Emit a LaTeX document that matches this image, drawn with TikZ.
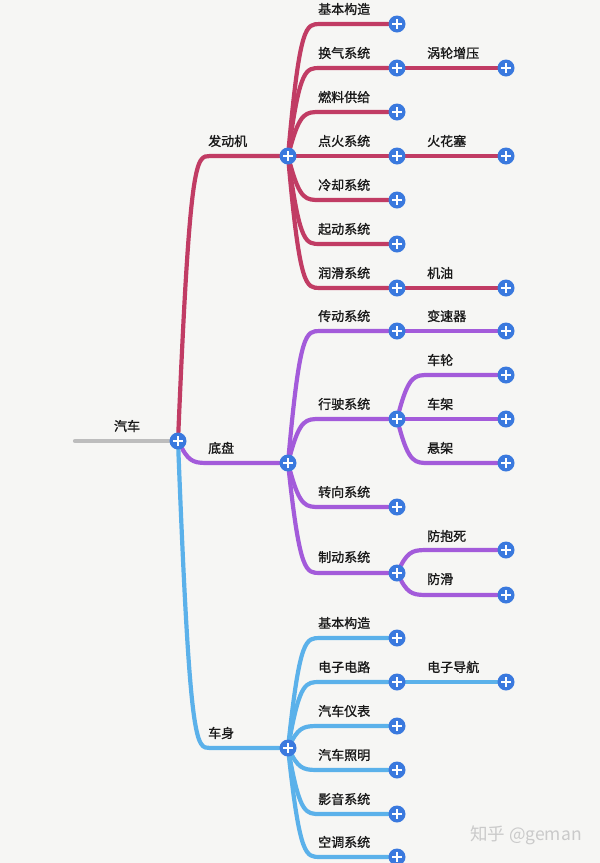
\documentclass[tikz,border=0pt]{standalone}
\usepackage{fontspec}
\newfontfamily\cjk{Noto Sans CJK SC}[FakeBold=1.2]
\newfontfamily\cjkwm{Noto Sans CJK SC}
\usetikzlibrary{calc,backgrounds}
\pgfdeclarelayer{bottom}
\pgfsetlayers{bottom,background,main}
\definecolor{bgc}{HTML}{F6F6F4}
\definecolor{engc}{HTML}{C13C64}
\definecolor{chac}{HTML}{A35BDA}
\definecolor{bodc}{HTML}{5BB1EA}
\definecolor{plusc}{HTML}{3A79DE}
\definecolor{rootc}{HTML}{BDBDBD}
\definecolor{wmc}{HTML}{CACACA}
\tikzset{
  plusnode/.style={circle,fill=plusc,minimum size=17pt,inner sep=0pt,
    path picture={\draw[white,line width=2.3pt]
      ($(path picture bounding box.center)+(-4.6pt,0pt)$) -- ($(path picture bounding box.center)+(4.6pt,0pt)$)
      ($(path picture bounding box.center)+(0pt,-4.6pt)$) -- ($(path picture bounding box.center)+(0pt,4.6pt)$);}},
  lbl/.style={anchor=west,inner sep=0pt,font=\cjk\fontsize{13}{15}\selectfont,text=black!90},
  conn/.style={line width=4.2pt,line cap=round,line join=round},
}
% curved connector from parent #1 to child #2
\newcommand\brconn[3]{%
  \draw[conn,#3] let \p1=(#1), \p2=(#2) in
    (#1) .. controls (\x1+12pt,\y2) and (\x1+18pt,\y2) .. (\x1+32pt,\y2) -- (#2);}
\begin{document}
\begin{tikzpicture}[x=1pt,y=-1pt]
\begin{pgfonlayer}{bottom}
\fill[bgc] (0,0) rectangle (600,863);
\end{pgfonlayer}
\useasboundingbox (0,0) rectangle (600,863);

% ---------- plus nodes ----------
\coordinate (rs) at (75,441);
\node[plusnode] (R) at (178,441) {};
\node[plusnode] (E) at (288,156) {};
\node[plusnode] (C) at (288,463) {};
\node[plusnode] (B) at (288,748) {};
% engine
\node[plusnode] (e1) at (397,24) {};
\node[plusnode] (e2) at (397,68) {};
\node[plusnode] (e3) at (397,112) {};
\node[plusnode] (e4) at (397,156) {};
\node[plusnode] (e5) at (397,200) {};
\node[plusnode] (e6) at (397,244) {};
\node[plusnode] (e7) at (397,288) {};
\node[plusnode] (e2a) at (506,68) {};
\node[plusnode] (e4a) at (506,156) {};
\node[plusnode] (e7a) at (506,288) {};
% chassis
\node[plusnode] (c1) at (397,331) {};
\node[plusnode] (c2) at (397,419) {};
\node[plusnode] (c3) at (397,507) {};
\node[plusnode] (c4) at (397,573) {};
\node[plusnode] (c1a) at (506,331) {};
\node[plusnode] (c2a) at (506,375) {};
\node[plusnode] (c2b) at (506,419) {};
\node[plusnode] (c2c) at (506,463) {};
\node[plusnode] (c4a) at (506,550) {};
\node[plusnode] (c4b) at (506,595) {};
% body
\node[plusnode] (b1) at (397,638) {};
\node[plusnode] (b2) at (397,682) {};
\node[plusnode] (b3) at (397,726) {};
\node[plusnode] (b4) at (397,770) {};
\node[plusnode] (b5) at (397,814) {};
\node[plusnode] (b6) at (397,857) {};
\node[plusnode] (b2a) at (506,682) {};

% ---------- connectors ----------
\begin{scope}[on background layer]
\draw[conn,rootc] (rs) -- (R);
\brconn{R}{E}{engc}
\brconn{R}{C}{chac}
\brconn{R}{B}{bodc}
\foreach \kk in {e1,e2,e3,e5,e6,e7} {\brconn{E}{\kk}{engc}}
\draw[conn,engc] (E) -- (e4);
\draw[conn,engc] (e2) -- (e2a);
\draw[conn,engc] (e4) -- (e4a);
\draw[conn,engc] (e7) -- (e7a);
\foreach \kk in {c1,c2,c3,c4} {\brconn{C}{\kk}{chac}}
\draw[conn,chac] (c1) -- (c1a);
\brconn{c2}{c2a}{chac}
\draw[conn,chac] (c2) -- (c2b);
\brconn{c2}{c2c}{chac}
\brconn{c4}{c4a}{chac}
\brconn{c4}{c4b}{chac}
\foreach \kk in {b1,b2,b3,b4,b5,b6} {\brconn{B}{\kk}{bodc}}
\draw[conn,bodc] (b2) -- (b2a);
\end{scope}

% ---------- labels ----------
\node[lbl,anchor=center] (lR) at (127,426) {汽车};
\node[lbl] (lE) at (208,141) {发动机};
\node[lbl] (lC) at (208,448) {底盘};
\node[lbl] (lB) at (208,733) {车身};
\node[lbl] (le1) at (318,9) {基本构造};
\node[lbl] (le2) at (318,53) {换气系统};
\node[lbl] (le3) at (318,97) {燃料供给};
\node[lbl] (le4) at (318,141) {点火系统};
\node[lbl] (le5) at (318,185) {冷却系统};
\node[lbl] (le6) at (318,229) {起动系统};
\node[lbl] (le7) at (318,273) {润滑系统};
\node[lbl] (le2a) at (427,53) {涡轮增压};
\node[lbl] (le4a) at (427,141) {火花塞};
\node[lbl] (le7a) at (427,273) {机油};
\node[lbl] (lc1) at (318,316) {传动系统};
\node[lbl] (lc2) at (318,404) {行驶系统};
\node[lbl] (lc3) at (318,492) {转向系统};
\node[lbl] (lc4) at (318,557) {制动系统};
\node[lbl] (lc1a) at (427,316) {变速器};
\node[lbl] (lc2a) at (427,360) {车轮};
\node[lbl] (lc2b) at (427,404) {车架};
\node[lbl] (lc2c) at (427,448) {悬架};
\node[lbl] (lc4a) at (427,536) {防抱死};
\node[lbl] (lc4b) at (427,579) {防滑};
\node[lbl] (lb1) at (318,623) {基本构造};
\node[lbl] (lb2) at (318,667) {电子电路};
\node[lbl] (lb3) at (318,711) {汽车仪表};
\node[lbl] (lb4) at (318,755) {汽车照明};
\node[lbl] (lb5) at (318,799) {影音系统};
\node[lbl] (lb6) at (318,842) {空调系统};
\node[lbl] (lb2a) at (427,667) {电子导航};

% watermark
\node[anchor=west,inner sep=0pt,font=\cjkwm\fontsize{17.5}{19}\selectfont,text=wmc] (wm) at (470,835) {知乎 @geman};
\end{tikzpicture}
\end{document}
